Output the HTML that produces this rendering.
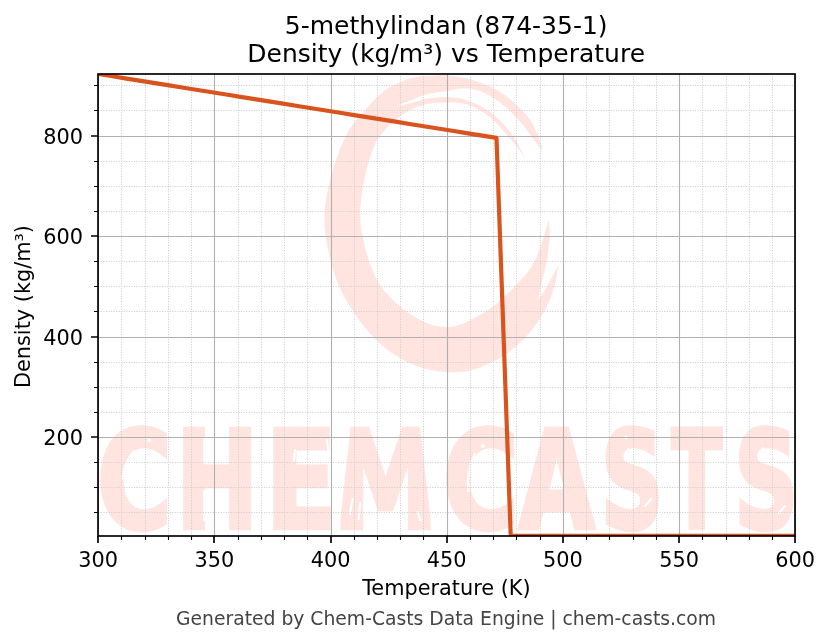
<!DOCTYPE html>
<html><head><meta charset="utf-8"><title>5-methylindan Density vs Temperature</title>
<style>html,body{margin:0;padding:0;background:#fff}svg{display:block;will-change:transform}</style></head>
<body>
<svg width="830" height="644" viewBox="0 0 830 644" font-family="'DejaVu Sans', 'Liberation Sans', sans-serif">
<rect width="830" height="644" fill="#fff"/>
<defs><clipPath id="ax"><rect x="98.2" y="74.0" width="697.0" height="461.9"/></clipPath></defs>
<g clip-path="url(#ax)" fill="#ffe4e0">
<path d="M541.6 150.2C541.5 149.1 542.5 148.0 541.0 143.7C539.5 139.4 535.9 129.8 532.7 124.2C529.5 118.6 527.2 115.5 521.8 110.1C516.4 104.7 507.3 96.4 500.1 91.7C492.9 87.0 485.6 84.4 478.4 81.9C471.2 79.4 464.0 77.6 456.8 76.5C449.6 75.4 442.6 75.2 435.4 75.4C428.2 75.6 420.7 75.8 413.4 77.6C406.1 79.4 397.1 83.6 391.7 86.3C386.3 89.0 384.4 90.8 380.8 93.9C377.2 97.0 375.5 98.2 370.0 104.7C364.5 111.2 353.9 121.2 347.6 132.7C341.3 144.1 335.9 159.7 332.0 173.4C328.1 187.1 325.0 201.7 324.5 215.0C324.0 228.3 326.0 240.6 328.8 253.3C331.6 266.0 335.6 279.0 341.3 291.0C347.1 303.0 355.5 315.5 363.3 325.4C371.1 335.3 379.5 343.7 388.4 350.5C397.3 357.3 407.2 362.4 416.6 366.0C426.0 369.6 435.9 371.3 444.8 372.0C453.7 372.7 461.1 372.5 470.0 370.4C478.9 368.3 489.5 363.8 497.9 359.2C506.3 354.6 513.8 348.6 520.3 342.5C526.8 336.4 532.4 329.4 537.0 322.9C541.6 316.4 545.2 309.9 548.2 303.4C551.2 296.9 553.6 290.1 555.2 283.8C556.8 277.5 557.5 268.6 558.0 265.6C557.3 267.0 555.7 270.5 553.8 274.0C551.9 277.5 549.4 282.2 546.8 286.6C544.2 291.0 539.8 298.3 538.4 300.6C538.9 297.8 539.8 290.3 541.2 283.8C542.6 277.3 545.4 269.4 546.8 261.5C548.2 253.6 549.3 243.3 549.6 236.3C549.9 229.3 548.9 222.4 548.8 219.6C548.0 222.4 546.0 230.2 544.0 236.3C542.0 242.4 539.8 249.8 537.0 255.9C534.2 261.9 531.5 267.0 527.3 272.6C523.1 278.2 517.3 284.0 511.9 289.4C506.5 294.8 500.7 300.3 495.1 304.7C489.5 309.1 484.2 312.6 478.4 315.9C472.6 319.2 465.6 322.6 460.5 324.5C455.4 326.4 453.2 327.1 448.0 327.0C442.8 326.9 436.3 326.7 429.0 323.8C421.7 320.9 411.8 315.7 404.0 309.7C396.2 303.7 387.7 295.6 382.0 287.8C376.3 280.0 373.0 272.1 369.6 262.7C366.2 253.3 363.2 239.2 361.7 231.3C360.1 223.4 360.3 221.0 360.3 215.0C360.3 209.0 360.6 203.2 361.7 195.4C362.8 187.6 364.9 176.2 367.0 168.0C369.1 159.8 372.0 151.5 374.3 146.0C376.6 140.5 377.9 138.8 380.8 135.0C383.7 131.2 388.1 126.5 391.7 123.1C395.3 119.7 398.9 116.9 402.5 114.5C406.1 112.1 409.8 110.2 413.4 108.6C417.0 107.0 420.6 105.6 424.2 104.7C427.8 103.8 431.0 103.4 435.0 103.0C439.0 102.6 442.6 102.2 448.0 102.5C453.4 102.8 460.7 102.4 467.6 104.7C474.5 107.0 482.1 110.8 489.3 116.6C496.5 122.4 505.1 132.5 511.0 139.4C517.0 146.3 522.7 154.7 525.0 157.8C522.7 153.7 517.0 140.7 511.0 132.9C505.1 125.1 496.5 116.6 489.3 111.2C482.1 105.8 474.5 102.8 467.6 100.4C460.7 98.1 453.4 97.5 448.0 97.1C442.6 96.7 439.0 97.4 435.0 97.8C431.0 98.2 427.8 98.5 424.2 99.3C420.6 100.1 418.1 101.3 413.4 102.5C408.7 103.7 398.9 105.8 396.0 106.4C397.1 105.9 399.6 104.8 402.5 103.6C405.4 102.4 409.8 100.8 413.4 99.3C417.0 97.8 420.6 96.0 424.2 94.9C427.8 93.8 431.0 93.5 435.0 92.8C439.0 92.1 443.8 91.7 448.1 91.0C452.5 90.3 456.1 88.6 461.1 88.5C466.2 88.4 471.9 88.3 478.4 90.6C484.9 92.9 493.2 97.4 500.1 102.5C507.0 107.6 514.5 115.6 519.6 121.0C524.7 126.4 526.8 130.2 530.5 135.1C534.2 140.0 539.8 147.7 541.6 150.2Z"/>
<text y="528.2" font-weight="bold" font-size="135" stroke="#ffe4e0" stroke-width="4.5" stroke-linejoin="miter"><tspan x="97.0" textLength="74.8" lengthAdjust="spacingAndGlyphs">C</tspan><tspan x="175.7" textLength="82.7" lengthAdjust="spacingAndGlyphs">H</tspan><tspan x="265.6" textLength="71.2" lengthAdjust="spacingAndGlyphs">E</tspan><tspan x="332.6" textLength="106.2" lengthAdjust="spacingAndGlyphs">M</tspan><tspan x="443.1" textLength="75.8" lengthAdjust="spacingAndGlyphs">C</tspan><tspan x="518.8" textLength="75.9" lengthAdjust="spacingAndGlyphs">A</tspan><tspan x="600.8" textLength="63.0" lengthAdjust="spacingAndGlyphs">S</tspan><tspan x="671.6" textLength="50.7" lengthAdjust="spacingAndGlyphs">T</tspan><tspan x="734.0" textLength="64.5" lengthAdjust="spacingAndGlyphs">S</tspan></text>
<g fill="#fff" stroke="none"><path d="M337 423H351L339.5 527H337Z"/><path d="M434 423H419.5L431.5 527H434Z"/><circle cx="149.2" cy="440.6" r="2"/><circle cx="625.8" cy="437.6" r="2"/><circle cx="762.8" cy="449.6" r="2.4"/><circle cx="483" cy="446" r="2"/></g>
<g fill="none" stroke="#fff" stroke-linecap="round" stroke-width="2.2"><path d="M134 451Q124 463 122.5 479"/><path d="M204 439V463M204 491V520"/><path d="M295 450L294 461M327 440L328.5 452"/><path d="M352.6 499L349.8 514M360 503L358.8 519M417.5 512L420.5 520"/><path d="M475 454Q466 472 468.5 491"/><path d="M628 449Q633 455 640 457M645 506L651 499"/><path d="M765 458Q770 464 777 466M779 513L785 506"/></g>

</g>
<path d="M121.50 74.0V535.9M145.50 74.0V535.9M168.50 74.0V535.9M191.50 74.0V535.9M238.50 74.0V535.9M261.50 74.0V535.9M284.50 74.0V535.9M307.50 74.0V535.9M354.50 74.0V535.9M377.50 74.0V535.9M400.50 74.0V535.9M423.50 74.0V535.9M470.50 74.0V535.9M493.50 74.0V535.9M516.50 74.0V535.9M540.50 74.0V535.9M586.50 74.0V535.9M609.50 74.0V535.9M633.50 74.0V535.9M656.50 74.0V535.9M702.50 74.0V535.9M726.50 74.0V535.9M749.50 74.0V535.9M772.50 74.0V535.9M98.2 512.50H795.2M98.2 487.50H795.2M98.2 462.50H795.2M98.2 412.50H795.2M98.2 387.50H795.2M98.2 362.50H795.2M98.2 311.50H795.2M98.2 286.50H795.2M98.2 261.50H795.2M98.2 211.50H795.2M98.2 186.50H795.2M98.2 161.50H795.2M98.2 110.50H795.2M98.2 85.50H795.2" stroke="#cfcfcf" stroke-width="0.95" stroke-dasharray="1.2 1.35" fill="none"/>
<path d="M98.50 74.0V535.9M214.50 74.0V535.9M331.50 74.0V535.9M447.50 74.0V535.9M563.50 74.0V535.9M679.50 74.0V535.9M795.50 74.0V535.9M98.2 437.50H795.2M98.2 337.50H795.2M98.2 236.50H795.2M98.2 136.50H795.2" stroke="#b0b0b0" stroke-width="1.1" fill="none"/>
<polyline clip-path="url(#ax)" points="98.20,74.01 112.42,76.29 126.65,78.57 140.87,80.85 155.10,83.14 169.32,85.42 183.55,87.70 197.77,89.98 212.00,92.26 226.22,94.55 240.44,96.83 254.67,99.11 268.89,101.39 283.12,103.68 297.34,105.96 311.57,108.24 325.79,110.52 340.02,112.81 354.24,115.09 368.47,117.37 382.69,119.65 396.91,121.93 411.14,124.22 425.36,126.50 439.59,128.78 453.81,131.06 468.04,133.35 482.26,135.63 496.49,137.91 510.71,535.86 524.93,535.86 539.16,535.86 553.38,535.86 567.61,535.86 581.83,535.86 596.06,535.86 610.28,535.86 624.51,535.86 638.73,535.86 652.96,535.86 667.18,535.86 681.40,535.86 695.63,535.86 709.85,535.86 724.08,535.86 738.30,535.86 752.53,535.86 766.75,535.86 780.98,535.86 795.20,535.86" fill="none" stroke="#d9531e" stroke-width="4.17" stroke-linejoin="round" stroke-linecap="butt"/>
<path d="M98.00 535.9v7.2M214.00 535.9v7.2M331.00 535.9v7.2M447.00 535.9v7.2M563.00 535.9v7.2M679.00 535.9v7.2M795.00 535.9v7.2M98.2 437.00h-7.2M98.2 337.00h-7.2M98.2 236.00h-7.2M98.2 136.00h-7.2" stroke="#000" stroke-width="1.67" fill="none"/>
<path d="M121.50 535.9v4.1M145.50 535.9v4.1M168.50 535.9v4.1M191.50 535.9v4.1M238.50 535.9v4.1M261.50 535.9v4.1M284.50 535.9v4.1M307.50 535.9v4.1M354.50 535.9v4.1M377.50 535.9v4.1M400.50 535.9v4.1M423.50 535.9v4.1M470.50 535.9v4.1M493.50 535.9v4.1M516.50 535.9v4.1M540.50 535.9v4.1M586.50 535.9v4.1M609.50 535.9v4.1M633.50 535.9v4.1M656.50 535.9v4.1M702.50 535.9v4.1M726.50 535.9v4.1M749.50 535.9v4.1M772.50 535.9v4.1M98.2 512.50h-4.1M98.2 487.50h-4.1M98.2 462.50h-4.1M98.2 412.50h-4.1M98.2 387.50h-4.1M98.2 362.50h-4.1M98.2 311.50h-4.1M98.2 286.50h-4.1M98.2 261.50h-4.1M98.2 211.50h-4.1M98.2 186.50h-4.1M98.2 161.50h-4.1M98.2 110.50h-4.1M98.2 85.50h-4.1" stroke="#000" stroke-width="1.1" fill="none"/>
<rect x="98.0" y="74.0" width="697.0" height="462.0" fill="none" stroke="#000" stroke-width="1.67"/>
<g font-size="20.83" fill="#000">
<text x="98.20" y="567.2" text-anchor="middle">300</text>
<text x="214.37" y="567.2" text-anchor="middle">350</text>
<text x="330.53" y="567.2" text-anchor="middle">400</text>
<text x="446.70" y="567.2" text-anchor="middle">450</text>
<text x="562.87" y="567.2" text-anchor="middle">500</text>
<text x="679.03" y="567.2" text-anchor="middle">550</text>
<text x="795.20" y="567.2" text-anchor="middle">600</text>
<text x="83.0" y="445.44" text-anchor="end">200</text>
<text x="83.0" y="344.96" text-anchor="end">400</text>
<text x="83.0" y="244.48" text-anchor="end">600</text>
<text x="83.0" y="144.00" text-anchor="end">800</text>
<text x="446.40" y="594.8" text-anchor="middle">Temperature (K)</text>
<text transform="translate(30.1 306.55) rotate(-90)" text-anchor="middle">Density (kg/m³)</text>
</g>
<g font-size="25" fill="#000" text-anchor="middle"><text x="446.20" y="33.7">5-methylindan (874-35-1)</text><text x="446.20" y="61.5">Density (kg/m³) vs Temperature</text></g>
<text x="446" y="624.7" font-size="18.75" fill="#444" text-anchor="middle">Generated by Chem-Casts Data Engine | chem-casts.com</text>
</svg>
</body></html>
